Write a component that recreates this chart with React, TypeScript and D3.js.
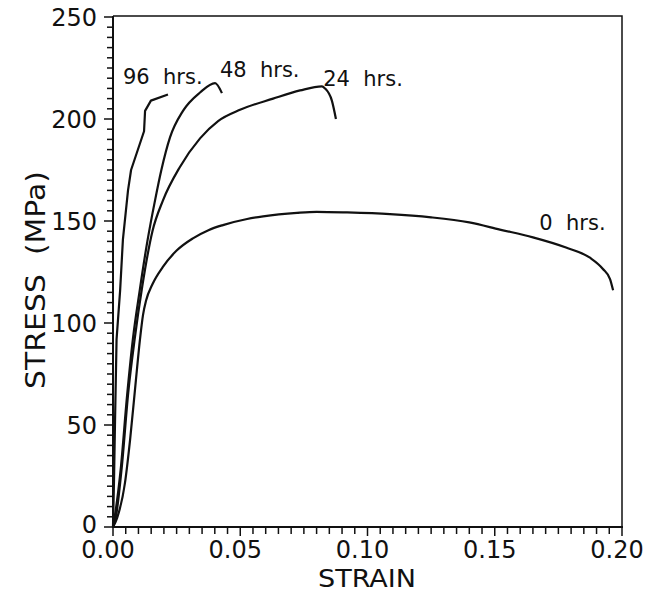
import React from "react";
import * as d3 from "d3";

type P = [number, number];

const hrs0: P[] = [
  [0, 0], [0.0016, 4.4], [0.0047, 21.6], [0.0067, 42.6], [0.009, 72], [0.0106, 92],
  [0.0118, 104], [0.013, 111], [0.0155, 119], [0.0196, 127.5], [0.025, 135.5],
  [0.0314, 141.5], [0.0375, 145.5], [0.0432, 148], [0.0527, 151], [0.059, 152.3],
  [0.0723, 154], [0.08, 154.5], [0.092, 154.2], [0.1088, 153.4], [0.125, 151.8],
  [0.14, 149.3], [0.152, 145.8], [0.165, 142], [0.178, 137], [0.1874, 132],
  [0.1925, 126.5], [0.1953, 121.5], [0.1965, 116],
];

const hrs24: P[] = [
  [0, 0], [0.001, 4], [0.0035, 30], [0.006, 66], [0.0085, 92], [0.0115, 118],
  [0.0155, 145], [0.0196, 160], [0.0263, 176.5], [0.0342, 190.5], [0.0413, 199],
  [0.0499, 204.5], [0.0629, 210], [0.0735, 214], [0.0821, 216], [0.0833, 215],
  [0.086, 209], [0.0876, 200],
];

const hrs48: P[] = [
  [0, 0], [0.0008, 6], [0.003, 28], [0.0055, 64], [0.0078, 92], [0.0105, 116],
  [0.0135, 140], [0.0165, 160], [0.019, 175], [0.0224, 191], [0.0275, 204],
  [0.0342, 213], [0.0401, 217.6], [0.0428, 212.7],
];

const hrs96: P[] = [
  [0, 0], [0.0004, 23], [0.0008, 52], [0.0014, 92], [0.0028, 116], [0.0039, 141],
  [0.0059, 165], [0.0071, 175], [0.0122, 194], [0.0126, 204], [0.0149, 209],
  [0.0216, 212],
];

const series = [hrs0, hrs24, hrs48, hrs96];
const smooth = [true, true, true, false];

const curveLabels = ["0  hrs.", "24  hrs.", "48  hrs.", "96  hrs."];
const labelAnchors: P[] = [
  [0.1675, 145.5], [0.0826, 216], [0.0420, 220.5], [0.0039, 217],
];

const xTicks = [0, 0.05, 0.1, 0.15, 0.2];
const xTickLabels = ["0.00", "0.05", "0.10", "0.15", "0.20"];
const yTicks = [0, 50, 100, 150, 200, 250];
const xMinor = d3.range(0, 41).map((i) => i * 0.005);
const yMinor = d3.range(0, 51).map((i) => i * 5);

const W = 661;
const H = 592;
const X0 = 113, X1 = 622, Y0 = 527, Y1 = 17;

export default function App() {
  const x = d3.scaleLinear().domain([0, 0.2]).range([X0, X1]);
  const y = d3.scaleLinear().domain([0, 250]).range([Y0, Y1]);
  const lineS = d3.line<P>().x((d) => x(d[0])).y((d) => y(d[1])).curve(d3.curveMonotoneX);
  const lineL = d3.line<P>().x((d) => x(d[0])).y((d) => y(d[1]));
  const font = "DejaVu Sans, Liberation Sans, sans-serif";
  return (
    <svg width={W} height={H} style={{ position: "absolute", left: 0, top: 0, background: "#fff" }}>
      <rect x={0} y={0} width={W} height={H} fill="#fff" />
      <path d={`M${X0},${Y1 - 1}H${X1}V${Y0}`} fill="none" stroke="#111" strokeWidth={1.5} />
      <line x1={X0} x2={X0} y1={Y1 - 1} y2={Y0 + 1} stroke="#111" strokeWidth={2} />
      <line x1={X0 - 1} x2={X1 + 1} y1={Y0} y2={Y0} stroke="#111" strokeWidth={2} />
      {yMinor.map((v, i) => {
        const major = i % 10 === 0;
        return (
          <line key={"ym" + i} x1={X0} x2={X0 - (major ? 9 : 6)} y1={y(v)} y2={y(v)} stroke="#111" strokeWidth={1.5} />
        );
      })}
      {xMinor.map((v, i) => {
        const major = i % 10 === 0;
        return (
          <line key={"xm" + i} y1={Y0} y2={Y0 + (major ? 9 : 7)} x1={x(v)} x2={x(v)} stroke="#111" strokeWidth={1.5} />
        );
      })}
      {yTicks.map((v) => (
        <text key={"yt" + v} x={97} y={y(v) - (v === 0 ? 3 : 0)} dy="0.36em" textAnchor="end" fontFamily={font} fontSize={24} fill="#111">
          {v}
        </text>
      ))}
      {xTicks.map((v, i) => (
        <text key={"xt" + v} x={x(v) - 5} y={558} textAnchor="middle" fontFamily={font} fontSize={24} fill="#111">
          {xTickLabels[i]}
        </text>
      ))}
      <text x={367} y={587} textAnchor="middle" fontFamily={font} fontSize={24} fill="#111" textLength={98} lengthAdjust="spacingAndGlyphs">
        STRAIN
      </text>
      <text
        transform={`translate(45,280) rotate(-90)`}
        textAnchor="middle"
        fontFamily={font}
        fontSize={26}
        fill="#111"
        textLength={218}
        lengthAdjust="spacingAndGlyphs"
        style={{ whiteSpace: "pre" }}
      >
        {"STRESS  (MPa)"}
      </text>
      {series.map((s, i) => (
        <path key={"s" + i} d={(smooth[i] ? lineS(s) : lineL(s)) || ""} fill="none" stroke="#111" strokeWidth={2.2} strokeLinejoin="round" />
      ))}
      {curveLabels.map((t, i) => (
        <text
          key={"l" + i}
          x={x(labelAnchors[i][0])}
          y={y(labelAnchors[i][1])}
          fontFamily={font}
          fontSize={21}
          fill="#111"
          style={{ whiteSpace: "pre" }}
        >
          {t}
        </text>
      ))}
    </svg>
  );
}
